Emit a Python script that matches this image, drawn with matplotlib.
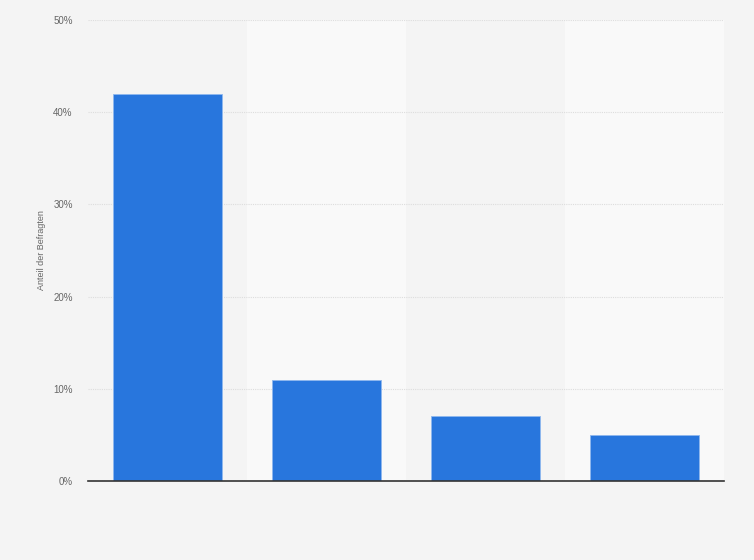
import matplotlib.pyplot as plt
from matplotlib.ticker import FuncFormatter

plt.rcParams["font.family"] = ["Liberation Sans", "DejaVu Sans"]

categories = ["A", "B", "C", "D"]
shares = [42, 11, 7, 5]
y_ticks = [0, 10, 20, 30, 40, 50]

fig = plt.figure(figsize=(7.54, 5.6), dpi=100)
fig.patch.set_facecolor("#f4f4f4")
ax = fig.add_axes([0.1167, 0.1411, 0.8435, 0.8232])
ax.set_facecolor("#f4f4f4")

x = list(range(len(categories)))

# alternating column bands
for i in x:
    if i % 2 == 1:
        ax.axvspan(i - 0.5, i + 0.5, color="#f9f9f9", zorder=0, lw=0)

ax.bar(x, shares, width=0.686, color="#2876dd", edgecolor="#8fb8ee",
       linewidth=0.6, zorder=3)

ax.set_xlim(-0.5, len(categories) - 0.5)
ax.set_ylim(0, 50)
ax.set_yticks(y_ticks)
ax.yaxis.set_major_formatter(FuncFormatter(lambda v, p: f"{int(v)}%"))
ax.set_xticks([])
ax.tick_params(axis="y", length=0, pad=11, labelsize=7, labelcolor="#666666")

ax.grid(axis="y", color="#dddddd", linestyle=(0, (1, 1)), linewidth=0.8, zorder=1)
for s in ["top", "right", "left"]:
    ax.spines[s].set_visible(False)
ax.spines["bottom"].set_color("#333333")
ax.spines["bottom"].set_linewidth(1.2)
ax.spines["bottom"].set_zorder(4)

ax.set_ylabel("Anteil der Befragten", fontsize=6.5, color="#666666", labelpad=5)

fig.savefig("out.png", dpi=100, facecolor=fig.get_facecolor())
